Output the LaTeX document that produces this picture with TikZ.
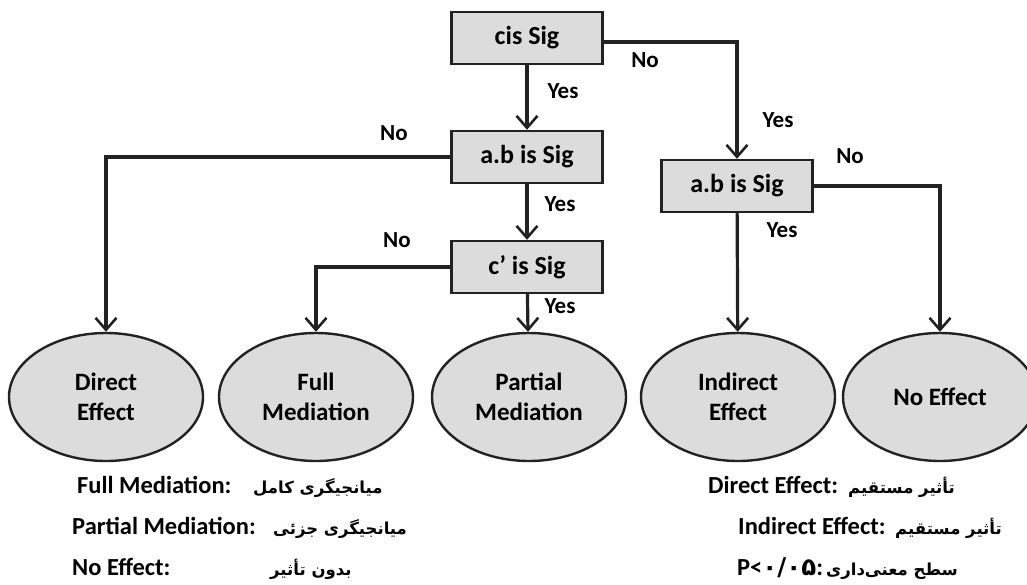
\documentclass[tikz,border=0pt]{standalone}
\usepackage{fontspec}
\setmainfont{Carlito}
\newfontfamily\arabicfont[Script=Arabic]{DejaVu Sans}
\TeXXeTstate=1
\usetikzlibrary{arrows.meta,shapes.geometric}
\definecolor{boxfill}{HTML}{DCDCDC}
\definecolor{ink}{HTML}{222222}
\begin{document}
\begin{tikzpicture}[x=1pt,y=-1pt,
  box/.style={draw=ink,line width=2.4pt,fill=boxfill,minimum width=151pt,minimum height=52pt,inner sep=0pt,font=\fontsize{26}{30}\selectfont\bfseries},
  oval/.style={ellipse,draw=ink,line width=2.4pt,fill=boxfill,minimum width=194pt,minimum height=128pt,inner sep=0pt,align=center,font=\fontsize{25}{30}\selectfont\bfseries},
  conn/.style={draw=ink,line width=3.2pt},
  arr/.style={conn,-{Straight Barb[length=12pt,width=21pt,line width=2.6pt]}},
  lab/.style={inner sep=0pt,font=\fontsize{23}{27}\selectfont\bfseries},
  note/.style={inner sep=0pt,anchor=base west,font=\fontsize{24.5}{30}\selectfont\bfseries},
  fa/.style={inner sep=0pt,anchor=base west,font=\fontsize{16.5}{22}\selectfont\bfseries\arabicfont}]
\useasboundingbox (0,0) rectangle (1027,584);
% decision boxes
\node[box] (cis) at (527,38) {cis Sig};
\node[box] (ab1) at (527,157) {a.b is Sig};
\node[box] (cp) at (527,267) {c' is Sig};
\node[box] (ab2) at (737,186) {a.b is Sig};
% outcomes
\node[oval] (de) at (106,397) {Direct\\Effect};
\node[oval] (fm) at (316,397) {Full\\Mediation};
\node[oval] (pm) at (529,397) {Partial\\Mediation};
\node[oval] (ie) at (738,397) {Indirect\\Effect};
\node[oval] (ne) at (940,397) {No Effect};
% connectors
\draw[arr] (cis) -- (ab1);
\draw[arr] (ab1) -- (cp);
\draw[arr] (cp) -- (pm);
\draw[arr] ([yshift=-4pt]cis.east) -| (ab2.north);
\draw[arr] (ab1.west) -| (de.north);
\draw[arr] (cp.west) -| (fm.north);
\draw[arr] (ab2.east) -| (ne.north);
\draw[arr] (ab2) -- (ie);
% branch labels
\node[lab] (l1) at (645,60) {No};
\node[lab] (l2) at (563,91) {Yes};
\node[lab] (l3) at (778,120) {Yes};
\node[lab] (l4) at (394,133) {No};
\node[lab] (l5) at (560,204) {Yes};
\node[lab] (l6) at (397,240) {No};
\node[lab] (l7) at (560,306) {Yes};
\node[lab] (l8) at (850,156) {No};
\node[lab] (l9) at (782,230) {Yes};
% glossary, left
\node[note] (g1) at (77,493) {Full Mediation:};
\node[fa] (p1) at (253,493) {\beginR میانجیگری کامل\endR};
\node[note] (g2) at (72,534) {Partial Mediation:};
\node[fa] (p2) at (273,534) {\beginR میانجیگری جزئی\endR};
\node[note] (g3) at (72,575) {No Effect:};
\node[fa] (p3) at (270,575) {\beginR بدون تأثیر\endR};
% glossary, right
\node[note] (g4) at (708,493) {Direct Effect:};
\node[fa] (p4) at (848,493) {\beginR تأثیر مستقیم\endR};
\node[note] (g5) at (738,534) {Indirect Effect:};
\node[fa] (p5) at (895,534) {\beginR تأثیر مستقیم\endR};
\node[note] (g6) at (737,575) {P<{\arabicfont ۰/۰۵}:};
\node[fa] (p6) at (826,575) {\beginR سطح معنی‌داری\endR};
\end{tikzpicture}
\end{document}
